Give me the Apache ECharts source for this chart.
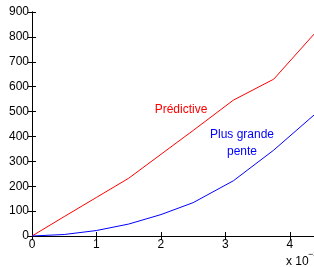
<!DOCTYPE html>
<html>
<head>
<meta charset="utf-8">
<script src="https://cdn.jsdelivr.net/npm/echarts@6/dist/echarts.min.js"></script>
<style>
  html, body { margin: 0; padding: 0; background: #fff; }
  #chart { width: 314px; height: 267px; }
</style>
</head>
<body>
<div id="chart"></div>
<script>
  // abscisse en unités de 10^-3
  var xVals = [0, 0.5, 1, 1.5, 2, 2.5, 3.125, 3.75, 4.375];
  var predictive = [0, 78, 155, 232, 328, 424, 546, 630, 811];
  var plusGrandePente = [0, 6, 22, 48, 86, 134, 222, 345, 486];
  var xTicks = [0, 1, 2, 3, 4];
  var yTicks = [0, 100, 200, 300, 400, 500, 600, 700, 800, 900];

  function pairs(ys) {
    return xVals.map(function (x, i) { return [x, ys[i]]; });
  }

  var chart = echarts.init(document.getElementById('chart'), null, { renderer: 'canvas' });
  var font = 'Liberation Sans, Arial, sans-serif';
  var black = '#000';

  var tickStyle = { inside: true, length: 4, lineStyle: { color: black, width: 1 } };

  var option = {
    animation: false,
    grid: { left: 32, top: 12, width: 284.4, height: 224, containLabel: false },
    xAxis: [{
      type: 'value',
      position: 'bottom',
      min: xTicks[0],
      max: xVals[xVals.length - 1],
      interval: 1,
      axisLine: { lineStyle: { color: black, width: 1 } },
      axisTick: tickStyle,
      splitLine: { show: false },
      axisLabel: {
        color: black, fontSize: 12, fontFamily: font, margin: 3,
        showMaxLabel: false,
        formatter: function (v) { return xTicks.indexOf(v) >= 0 ? String(v) : ''; }
      }
    }, {
      type: 'value',
      position: 'top',
      min: xTicks[0],
      max: xVals[xVals.length - 1],
      interval: 1,
      axisLine: { lineStyle: { color: black, width: 1 } },
      axisTick: tickStyle,
      splitLine: { show: false },
      axisLabel: { show: false }
    }],
    yAxis: [{
      type: 'value',
      position: 'left',
      min: yTicks[0],
      max: yTicks[yTicks.length - 1],
      interval: 100,
      axisLine: { show: true, lineStyle: { color: black, width: 1 } },
      axisTick: { show: true, inside: true, length: 4, lineStyle: { color: black } },
      splitLine: { show: false },
      axisLabel: { color: black, fontSize: 12, fontFamily: font, margin: 3 }
    }, {
      type: 'value',
      position: 'right',
      min: yTicks[0],
      max: yTicks[yTicks.length - 1],
      interval: 100,
      axisLine: { show: true, lineStyle: { color: black, width: 1 } },
      axisTick: { show: true, inside: true, length: 4, lineStyle: { color: black } },
      splitLine: { show: false },
      axisLabel: { show: false }
    }],
    series: [{
      name: 'Prédictive',
      type: 'line',
      data: pairs(predictive),
      showSymbol: false,
      lineStyle: { color: '#ff0000', width: 1 },
      z: 3
    }, {
      name: 'Plus grande pente',
      type: 'line',
      data: pairs(plusGrandePente),
      showSymbol: false,
      lineStyle: { color: '#0000ff', width: 1 },
      z: 3
    }],
    graphic: [{
      type: 'text', x: 181, y: 110,
      style: { text: 'Prédictive', fill: '#ff0000', font: '12px ' + font,
               align: 'center', verticalAlign: 'middle' }
    }, {
      type: 'text', x: 242, y: 135,
      style: { text: 'Plus grande', fill: '#0000ff', font: '12px ' + font,
               align: 'center', verticalAlign: 'middle' }
    }, {
      type: 'text', x: 242, y: 152,
      style: { text: 'pente', fill: '#0000ff', font: '12px ' + font,
               align: 'center', verticalAlign: 'middle' }
    }, {
      type: 'text', x: 286, y: 262,
      style: { text: 'x 10', fill: black, font: '12px ' + font,
               align: 'left', verticalAlign: 'middle' }
    }, {
      type: 'text', x: 308, y: 255,
      style: { text: '−3', fill: black, font: '9px ' + font,
               align: 'left', verticalAlign: 'middle' }
    }]
  };

  chart.setOption(option);
</script>
</body>
</html>
